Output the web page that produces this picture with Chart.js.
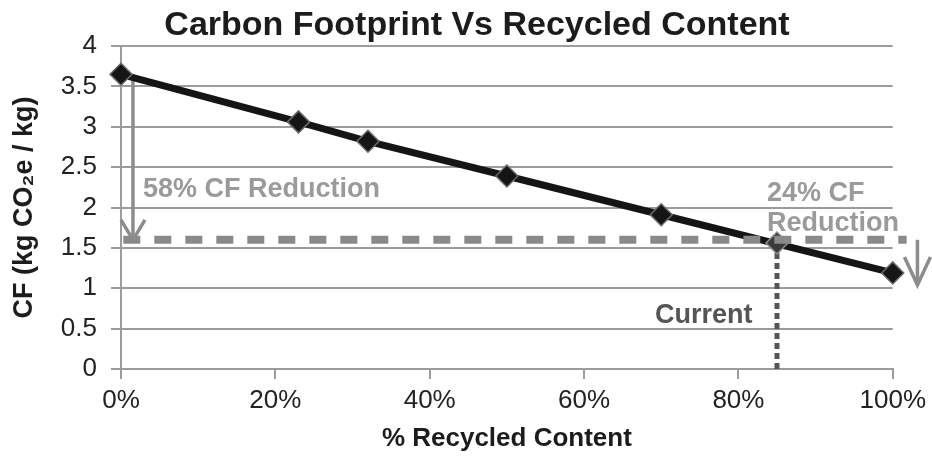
<!DOCTYPE html>
<html>
<head>
<meta charset="utf-8">
<script src="https://cdn.jsdelivr.net/npm/chart.js@4/dist/chart.umd.min.js"></script>
<style>
  html, body { margin: 0; padding: 0; background: #ffffff; }
  canvas { display: block; }
</style>
</head>
<body>
<canvas id="cf" width="932" height="464"></canvas>
<script>
// Carbon footprint of the product at each recycled-content level
const recycledPct = [0, 23, 32, 50, 70, 100];
const cfValues    = [3.65, 3.06, 2.82, 2.39, 1.91, 1.19];

// Current operating point
const currentPct = [85];
const currentCF  = [1.56];

// Target level (dashed) and its horizontal extent in % recycled
const targetCF   = 1.6;
const targetSpan = [0.3, 101.8];

// Reduction arrows: x position (%), start and end CF values
const arrowLeft  = { x: 1.55,  from: 3.62, to: 1.6 };
const arrowRight = { x: 103.2, from: 1.6,  to: 1.04 };

// Axis ticks
const xTicks = [0, 20, 40, 60, 80, 100];
const yTicks = [0, 0.5, 1, 1.5, 2, 2.5, 3, 3.5, 4];

// Annotation text with anchor positions in data units
const notes = [
  { lines: ['58% CF Reduction'], x: 2.85, y: 2.22, color: '#9a9a9a' },
  { lines: ['24% CF', 'Reduction'], x: 83.7, y: 2.17, color: '#9a9a9a' },
  { lines: ['Current'], x: 69.2, y: 0.66, color: '#555555' }
];

const titleText = 'Carbon Footprint Vs Recycled Content';

const GRID = '#9c9c9c';
const FONT = "'Liberation Sans', Arial, sans-serif";

function drawArrow(ctx, xs, ys, a, armW, armH) {
  const x = xs.getPixelForValue(a.x);
  const y0 = ys.getPixelForValue(a.from);
  const y1 = ys.getPixelForValue(a.to);
  ctx.save();
  ctx.strokeStyle = '#8c8c8c';
  ctx.lineWidth = 3.5;
  ctx.lineCap = 'butt';
  ctx.beginPath();
  ctx.moveTo(x, y0);
  ctx.lineTo(x, y1);
  ctx.stroke();
  ctx.beginPath();
  ctx.moveTo(x - armW, y1 - armH);
  ctx.lineTo(x, y1);
  ctx.lineTo(x + armW, y1 - armH);
  ctx.stroke();
  ctx.restore();
}

const annotations = {
  id: 'annotations',
  beforeDatasetsDraw(chart) {
    const { ctx, scales: { x, y } } = chart;
    drawArrow(ctx, x, y, arrowLeft, 12, 20);
  },
  afterDatasetsDraw(chart) {
    const { ctx, scales: { x, y } } = chart;
    drawArrow(ctx, x, y, arrowRight, 13, 28);
    ctx.save();
    ctx.font = 'bold 27px ' + FONT;
    ctx.textAlign = 'left';
    ctx.textBaseline = 'middle';
    notes.forEach(n => {
      ctx.fillStyle = n.color;
      const px = x.getPixelForValue(n.x);
      const py = y.getPixelForValue(n.y);
      n.lines.forEach((t, i) => ctx.fillText(t, px, py + i * 30));
    });
    ctx.restore();
  },
  afterDraw(chart) {
    const { ctx } = chart;
    ctx.save();
    ctx.font = 'bold 34px ' + FONT;
    ctx.fillStyle = '#1c1c1c';
    ctx.textAlign = 'center';
    ctx.textBaseline = 'alphabetic';
    ctx.fillText(titleText, 477, 35);
    ctx.restore();
  }
};

new Chart(document.getElementById('cf'), {
  type: 'line',
  data: {
    datasets: [
      {
        label: 'Target',
        data: targetSpan.map(v => ({ x: v, y: targetCF })),
        borderColor: '#8a8a8a',
        borderWidth: 8,
        borderDash: [17, 14],
        pointRadius: 0,
        clip: false,
        order: 0
      },
      {
        label: 'Current',
        data: currentPct.map((v, i) => ({ x: v, y: currentCF[i] })),
        showLine: false,
        pointStyle: 'rectRot',
        pointRadius: 11,
        pointBackgroundColor: '#3a3a3a',
        pointBorderColor: '#8a8a8a',
        pointBorderWidth: 1.5,
        order: 1
      },
      {
        label: 'CF',
        data: recycledPct.map((v, i) => ({ x: v, y: cfValues[i] })),
        borderColor: '#151515',
        borderWidth: 7,
        pointStyle: 'rectRot',
        pointRadius: 11,
        pointBackgroundColor: '#151515',
        pointBorderColor: '#6a6a6a',
        pointBorderWidth: 1.5,
        clip: false,
        order: 2
      },
      {
        label: 'Current level',
        data: [{ x: currentPct[0], y: currentCF[0] }, { x: currentPct[0], y: 0 }],
        borderColor: '#555555',
        borderWidth: 5,
        borderDash: [6, 4],
        pointRadius: 0,
        order: 3
      }
    ]
  },
  options: {
    responsive: false,
    animation: false,
    devicePixelRatio: 1,
    layout: { padding: { top: 46, left: 0, right: 39, bottom: 0 } },
    plugins: {
      legend: { display: false },
      tooltip: { enabled: false },
      title: { display: false }
    },
    scales: {
      x: {
        type: 'linear',
        min: 0,
        max: 100,
        afterBuildTicks(s) { s.ticks = xTicks.map(v => ({ value: v })); },
        afterFit(s) { s.height = 95; },
        grid: {
          drawOnChartArea: false,
          drawTicks: true,
          tickLength: 10,
          color: GRID,
          lineWidth: 2
        },
        border: { display: true, color: GRID, width: 2 },
        ticks: {
          padding: 6,
          color: '#222222',
          font: { family: FONT, size: 26 },
          callback: v => v + '%'
        },
        title: {
          display: true,
          text: '% Recycled Content',
          color: '#1c1c1c',
          font: { family: FONT, size: 26, weight: 'bold' },
          padding: { top: 4, bottom: 10 }
        }
      },
      y: {
        min: 0,
        max: 4,
        afterBuildTicks(s) { s.ticks = yTicks.map(v => ({ value: v })); },
        afterFit(s) { s.width = 121; },
        grid: {
          color: GRID,
          lineWidth: 2,
          tickLength: 10
        },
        border: { display: true, color: GRID, width: 2 },
        ticks: {
          padding: 14,
          color: '#222222',
          font: { family: FONT, size: 26 },
          callback: v => String(v)
        },
        title: {
          display: true,
          text: 'CF (kg CO₂e / kg)',
          color: '#1c1c1c',
          font: { family: FONT, size: 27, weight: 'bold' },
          padding: { top: 8, bottom: 4 }
        }
      }
    }
  },
  plugins: [annotations]
});
</script>
</body>
</html>
